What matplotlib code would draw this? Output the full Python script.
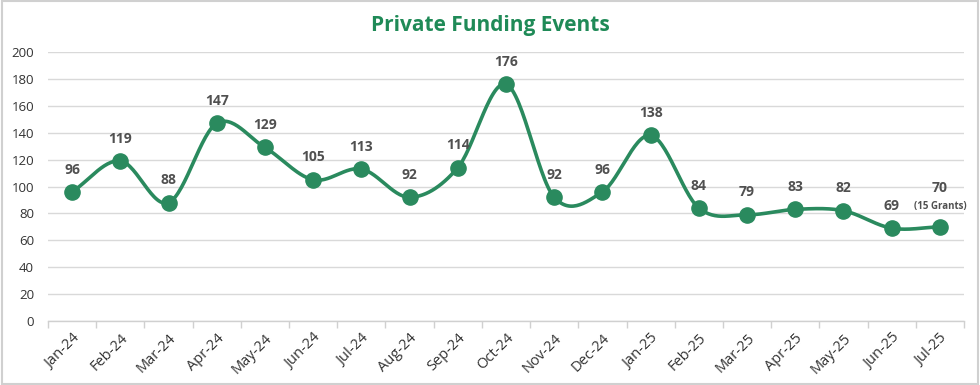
import numpy as np
import matplotlib
matplotlib.use("Agg")
import matplotlib.pyplot as plt
from matplotlib.patches import Rectangle

months = ["Jan-24", "Feb-24", "Mar-24", "Apr-24", "May-24", "Jun-24", "Jul-24", "Aug-24",
          "Sep-24", "Oct-24", "Nov-24", "Dec-24", "Jan-25", "Feb-25", "Mar-25", "Apr-25",
          "May-25", "Jun-25", "Jul-25"]
events = [96, 119, 88, 147, 129, 105, 113, 92, 114, 176, 92, 96, 138, 84, 79, 83, 82, 69, 70]
yticks = [0, 20, 40, 60, 80, 100, 120, 140, 160, 180, 200]
title = "Private Funding Events"
last_note = "(15 Grants)"

GREEN = "#2a8a5e"
TITLE_GREEN = "#1f8a57"
LABEL = "#505050"

plt.rcParams['font.family'] = ['Open Sans', 'DejaVu Sans']

fig = plt.figure(figsize=(9.8, 3.85), dpi=100)
fig.patches.append(Rectangle((0.002, 0.003), 0.996, 0.994, transform=fig.transFigure,
                             fill=False, edgecolor="#d0d0d0", linewidth=1.5))
ax = fig.add_axes([48/980, (385-321)/385, (964-48)/980, (321-52)/385])

x = np.arange(len(events))
y = np.array(events, dtype=float)

# Catmull-Rom smoothing (Excel-like smoothed line)
def catmull(xp, yp, n=30, t=0.5):
    P = np.column_stack([xp, yp])
    P = np.vstack([P[0] - (P[1] - P[0]), P, P[-1] + (P[-1] - P[-2])])
    out = []
    for i in range(1, len(P) - 2):
        p0, p1, p2, p3 = P[i-1], P[i], P[i+1], P[i+2]
        m1 = t * (p2 - p0)
        m2 = t * (p3 - p1)
        s = np.linspace(0, 1, n, endpoint=False)[:, None]
        h00 = 2*s**3 - 3*s**2 + 1
        h10 = s**3 - 2*s**2 + s
        h01 = -2*s**3 + 3*s**2
        h11 = s**3 - s**2
        out.append(h00*p1 + h10*m1 + h01*p2 + h11*m2)
    out.append(P[-2][None, :])
    return np.vstack(out)

curve = catmull(x, y)
ax.plot(curve[:, 0], curve[:, 1], color=GREEN, linewidth=2.6, zorder=3, solid_capstyle="round")
ax.scatter(x, y, s=120, color=GREEN, zorder=4, edgecolors=GREEN)

for i, v in enumerate(events):
    off = 23 if i == len(events) - 1 else 11
    ax.annotate(str(v), (i, v), xytext=(0, off), textcoords="offset points",
                ha="center", va="bottom", fontsize=10, fontweight="bold", color=LABEL)
ax.annotate(last_note, (len(events) - 1, events[-1]), xytext=(0, 11), textcoords="offset points",
            ha="center", va="bottom", fontsize=7, fontweight="bold", color=LABEL)

ax.set_xlim(-0.5, len(events) - 0.5)
ax.set_ylim(0, 200)
ax.set_yticks(yticks)
ax.set_yticklabels([str(t) for t in yticks], fontsize=9.5, color="#333333")
ax.yaxis.grid(True, color="#d9d9d9", linewidth=1)
ax.set_axisbelow(True)
ax.tick_params(axis="y", length=0, pad=10)

ax.set_xticks(x)
ax.set_xticklabels(months, rotation=45, ha="right", rotation_mode="anchor",
                   fontsize=10.5, color="#333333")
ax.set_xticks(np.arange(-0.5, len(events)), minor=True)
ax.tick_params(axis="x", which="major", length=0, pad=7)
ax.tick_params(axis="x", which="minor", length=5, color="#d0d0d0", width=1)

for s in ["top", "right", "left"]:
    ax.spines[s].set_visible(False)
ax.spines["bottom"].set_color("#d0d0d0")
ax.spines["bottom"].set_linewidth(1)

fig.text(0.5, 1 - 25/385, title, ha="center", va="center", fontsize=15,
         fontweight="bold", color=TITLE_GREEN)

fig.savefig("out.png", dpi=100)
